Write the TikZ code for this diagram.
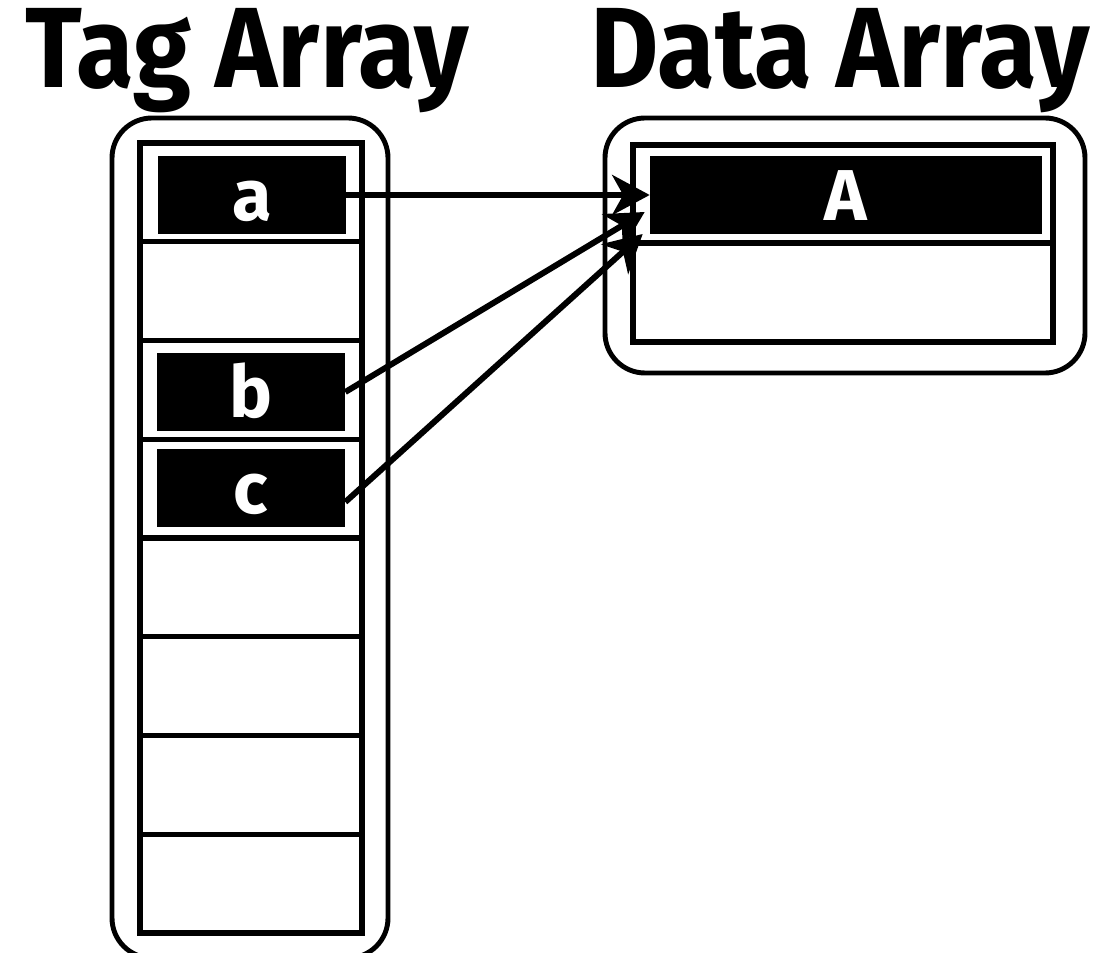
\documentclass[tikz,border=0pt]{standalone}
\usepackage{fontspec}
\setmainfont{Fira Sans}
\usetikzlibrary{arrows.meta}

\begin{document}
\begin{tikzpicture}[x=0.02cm,y=-0.02cm,
  box/.style={draw,line width=2.8pt,rounded corners=0.8cm},
  frame/.style={draw,line width=3pt},
  cell/.style={draw=none,fill=black,text=white,inner sep=0pt,
    font=\bfseries\fontsize{41}{41}\selectfont,minimum height=1.58cm,
    text height=1.02cm,text depth=0pt},
  title/.style={font=\bfseries\fontsize{65}{65}\selectfont,inner sep=0pt,anchor=base,
    xscale=0.92,transform shape},
  link/.style={-{Stealth[length=0.75cm,width=0.8cm,inset=0.22cm]},line width=3.4pt}]

  \clip (0,0) rectangle (1100,953);

  % Titles
  \node[title] (tagtitle) at (247,88) {Tag Array};
  \node[title] (datatitle) at (840,88) {Data Array};

  % Tag array (outer box, column and row lines)
  \draw[box] (112,118) rectangle (388,958);
  \draw[frame] (140,143) rectangle (362,933);
  \foreach \k in {1,...,7}
    \draw[frame] (140,143+98.75*\k) -- (362,143+98.75*\k);

  % Data array
  \draw[box] (605,118) rectangle (1085,373);
  \draw[frame] (633,145) rectangle (1053,342);
  \draw[frame] (633,243) -- (1053,243);

  % Filled entries
  \node[cell,minimum width=3.76cm] (ta) at (252,195) {a};
  \node[cell,minimum width=3.76cm] (tb) at (251,392) {b};
  \node[cell,minimum width=3.76cm] (tc) at (251,488) {c};
  \node[cell,minimum width=7.84cm] (dA) at (846,195) {A};

  % Tags point to the same data line
  \draw[link] (ta.east) -- (dA.west);
  \draw[link] (tb.east) -- ([shift={(-5,17)}]dA.west);
  \draw[link] ([shift={(0,14)}]tc.east) -- ([shift={(-7,39)}]dA.west);

\end{tikzpicture}
\end{document}
